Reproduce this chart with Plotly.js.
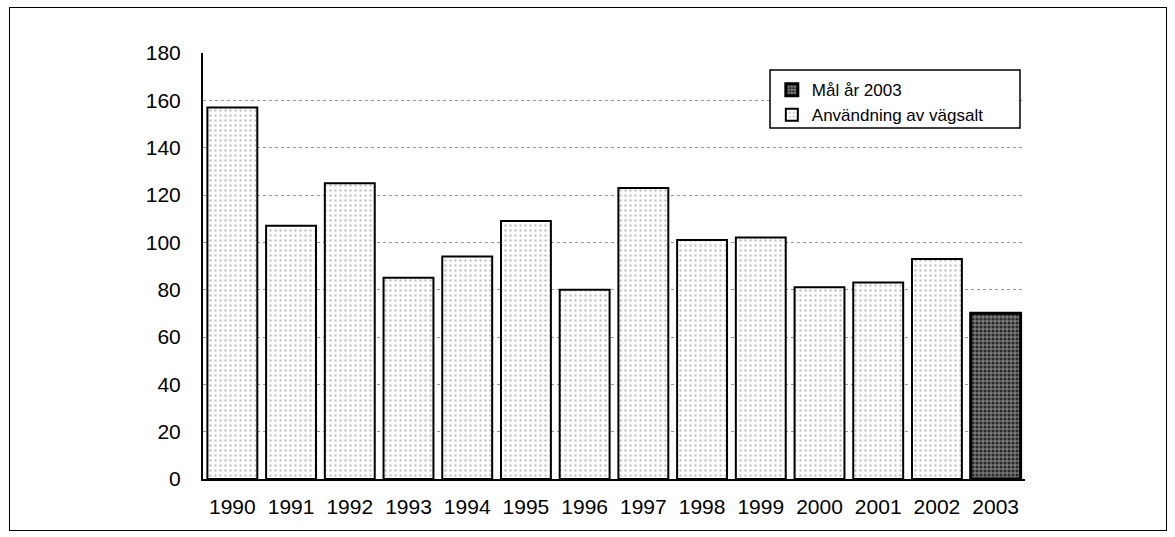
<!DOCTYPE html>
<html><head><meta charset="utf-8">
<script src="https://cdn.plot.ly/plotly-3.0.1.min.js"></script>
<style>
html,body{margin:0;padding:0;background:#fff;}
#frame{position:absolute;left:9px;top:7px;width:1156px;height:522px;border:1.5px solid #000;pointer-events:none;}
</style>
</head><body>
<div id="chart" style="width:1175px;height:537px;"></div>
<div id="frame"></div>
<script>
const years = ["1990","1991","1992","1993","1994","1995","1996","1997","1998","1999","2000","2001","2002","2003"];
const usage = [157,107,125,85,94,109,80,123,101,102,81,83,93,null];
const goal  = [null,null,null,null,null,null,null,null,null,null,null,null,null,70];
const yTicks = [0,20,40,60,80,100,120,140,160,180];

const fontFam = '"Liberation Sans",Arial,sans-serif';

const traces = [
  {type:'bar', name:'Mål år 2003', x:years, y:goal,
   marker:{color:'#5a5a5a', line:{color:'#000', width:3},
           pattern:{shape:'.', fgcolor:'#2a2a2a', bgcolor:'#7a7a7a', size:4, solidity:0.5}}},
  {type:'bar', name:'Användning av vägsalt', x:years, y:usage,
   marker:{color:'#f8f8f8', line:{color:'#000', width:2},
           pattern:{shape:'.', fgcolor:'#c4c4c4', bgcolor:'#ffffff', size:5, solidity:0.18}}}
];

const layout = {
  width:1175, height:537,
  margin:{l:203, r:150, t:53, b:58},
  paper_bgcolor:'#fff', plot_bgcolor:'#fff',
  barmode:'overlay', bargap:0.15,
  showlegend:true,
  legend:{x:0.692, y:0.955, xanchor:'left', yanchor:'top',
          borderwidth:0, bgcolor:'rgba(0,0,0,0)',
          font:{family:fontFam, size:17, color:'#000'},
          traceorder:'normal', itemwidth:30, tracegroupgap:2},
  shapes:[{type:'rect', xref:'paper', yref:'paper', x0:0.6898, x1:0.9939, y0:0.824, y1:0.960,
           line:{color:'#000', width:1.5}, fillcolor:'#fff', layer:'above'}],
  xaxis:{type:'category', showline:true, linecolor:'#000', linewidth:2,
         ticks:'', tickfont:{family:fontFam, size:21, color:'#000'},
         showgrid:false, zeroline:false, ticklabelstandoff:8},
  yaxis:{range:[0,180], tickvals:yTicks, showline:true, linecolor:'#000', linewidth:2,
         ticks:'', tickfont:{family:fontFam, size:21, color:'#000'},
         showgrid:true, gridcolor:'#999', griddash:'dot', gridwidth:1,
         zeroline:false, ticklabelstandoff:16}
};

Plotly.newPlot('chart', traces, layout, {displayModeBar:false, staticPlot:true});
</script>
</body></html>
